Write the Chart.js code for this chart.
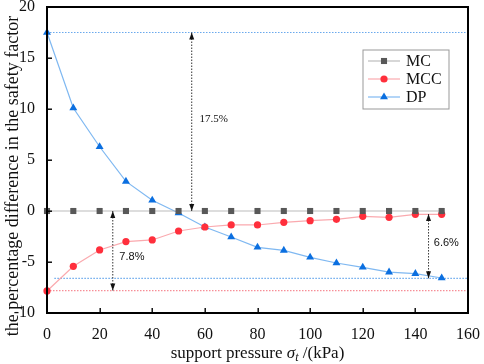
<!DOCTYPE html>
<html>
<head>
<meta charset="utf-8">
<script src="https://cdn.jsdelivr.net/npm/chart.js@4"></script>
<style>
  html, body { margin: 0; padding: 0; background: #fff; }
</style>
</head>
<body>
<canvas id="diffChart" width="484" height="364"></canvas>
<script>
const pressures = [0, 10, 20, 30, 40, 50, 60, 70, 80, 90, 100, 110, 120, 130, 140, 150];
const mcValues = [0, 0, 0, 0, 0, 0, 0, 0, 0, 0, 0, 0, 0, 0, 0, 0];
const mccValues = [-7.84, -5.42, -3.82, -3.0, -2.84, -1.96, -1.57, -1.37, -1.37, -1.11, -0.95, -0.82, -0.52, -0.62, -0.33, -0.33];
const dpValues = [17.5, 10.1, 6.3, 2.9, 1.05, -0.2, -1.57, -2.55, -3.56, -3.86, -4.54, -5.1, -5.52, -6.0, -6.14, -6.57];

const xTicks = [0, 20, 40, 60, 80, 100, 120, 140, 160];
const yTicks = [-10, -5, 0, 5, 10, 15, 20];

// reference lines: [y, xStart, colour]
const guideLines = [
  [17.5, 0, 'rgba(90,160,235,0.9)'],
  [-6.6, 2.8, 'rgba(90,160,235,0.9)'],
  [-7.8, 0, 'rgba(245,130,140,0.9)']
];
// arrows: [x, yFrom, yTo, label, labelX, labelY, font]
const arrows = [
  [55, 0, 17.5, '17.5%', 58, 9, '11px "Liberation Serif"'],
  [25, 0, -7.8, '7.8%', 27.5, -4.5, '11px "Liberation Sans"'],
  [145, -0.3, -6.6, '6.6%', 147, -3.1, '11px "Liberation Sans"']
];

const toPoints = (vals) => pressures.map((p, i) => ({ x: p, y: vals[i] }));

const series = [
  { label: 'MC', data: mcValues, line: 'rgba(170,170,170,0.8)', fill: '#585858', style: 'rect', r: 4.3 },
  { label: 'MCC', data: mccValues, line: 'rgba(250,160,165,0.9)', fill: '#ff2f3c', style: 'circle', r: 3.6 },
  { label: 'DP', data: dpValues, line: 'rgba(120,180,240,0.95)', fill: '#0b6fe0', style: 'triangle', r: 4.6 }
];

const drawMarker = (c, style, x, y, r, color) => {
  c.save();
  c.fillStyle = color;
  c.beginPath();
  if (style === 'rect') {
    const h = r * Math.SQRT1_2;
    c.rect(x - h, y - h, h * 2, h * 2);
  } else if (style === 'circle') {
    c.arc(x, y, r, 0, Math.PI * 2);
  } else {
    c.moveTo(x, y - r);
    c.lineTo(x + r * 0.866, y + r * 0.5);
    c.lineTo(x - r * 0.866, y + r * 0.5);
    c.closePath();
  }
  c.fill();
  c.restore();
};

const arrowHead = (c, x, y, dir) => {
  c.beginPath();
  c.moveTo(x, y);
  c.lineTo(x - 2.5, y - dir * 7);
  c.lineTo(x + 2.5, y - dir * 7);
  c.closePath();
  c.fill();
};

const decorPlugin = {
  id: 'decor',
  beforeDatasetsDraw(chart) {
    const c = chart.ctx;
    const area = chart.chartArea;
    const xs = chart.scales.x, ys = chart.scales.y;
    c.save();
    c.lineWidth = 1.2;
    c.setLineDash([1.5, 1.5]);
    guideLines.forEach(([v, x0, col]) => {
      c.strokeStyle = col;
      c.beginPath();
      c.moveTo(xs.getPixelForValue(x0), ys.getPixelForValue(v));
      c.lineTo(area.right, ys.getPixelForValue(v));
      c.stroke();
    });
    c.restore();
  },
  afterDraw(chart) {
    const c = chart.ctx;
    const area = chart.chartArea;
    const xs = chart.scales.x, ys = chart.scales.y;
    c.save();

    // frame + inward ticks
    const L = Math.round(area.left), R = Math.round(area.right);
    const T = Math.round(area.top), B = Math.round(area.bottom);
    c.fillStyle = '#000000';
    c.fillRect(L - 1, T - 1, R - L + 2, 2);
    c.fillRect(L - 1, B - 1, R - L + 2, 2);
    c.fillRect(L - 1, T - 1, 2, B - T + 2);
    c.fillRect(R - 1, T - 1, 2, B - T + 2);
    xTicks.forEach(v => {
      const px = Math.round(xs.getPixelForValue(v));
      c.fillRect(px - 0.5, B - 5, 1.4, 5);
    });
    yTicks.forEach(v => {
      const py = Math.round(ys.getPixelForValue(v));
      c.fillRect(L, py - 0.5, 5, 1.4);
    });

    // arrows
    arrows.forEach(([xv, y0, y1, label, tx, ty, font]) => {
      const px = xs.getPixelForValue(xv);
      const p0 = ys.getPixelForValue(y0);
      const p1 = ys.getPixelForValue(y1);
      c.strokeStyle = '#333';
      c.fillStyle = '#111';
      c.lineWidth = 1;
      c.setLineDash([1.5, 1.5]);
      c.beginPath();
      c.moveTo(px, p0);
      c.lineTo(px, p1);
      c.stroke();
      c.setLineDash([]);
      const dir = p1 < p0 ? -1 : 1;
      arrowHead(c, px, p1, dir);
      arrowHead(c, px, p0, -dir);
      c.font = font;
      c.textAlign = 'left';
      c.textBaseline = 'middle';
      c.fillText(label, xs.getPixelForValue(tx), ys.getPixelForValue(ty));
    });

    // legend
    const bx = 363, by = 50, bw = 86, bh = 59;
    c.lineWidth = 1;
    c.strokeStyle = '#999';
    c.strokeRect(bx, by, bw, bh);
    series.forEach((s, i) => {
      const cy = by + 11 + i * 18;
      c.strokeStyle = s.line;
      c.lineWidth = 1.2;
      c.beginPath();
      c.moveTo(bx + 5, cy);
      c.lineTo(bx + 37, cy);
      c.stroke();
      drawMarker(c, s.style, bx + 21, cy, s.r, s.fill);
      c.fillStyle = '#111';
      c.font = '16px "Liberation Serif"';
      c.textAlign = 'left';
      c.textBaseline = 'middle';
      c.fillText(s.label, bx + 43, cy + 1);
    });

    // x title with italic sigma_t
    c.fillStyle = '#111';
    c.textBaseline = 'alphabetic';
    c.textAlign = 'left';
    const part1 = 'support pressure ';
    const part3 = ' /(kPa)';
    c.font = '17px "Liberation Serif"';
    const w1 = c.measureText(part1).width;
    const w3 = c.measureText(part3).width;
    c.font = 'italic 17px "Liberation Serif"';
    const ws = c.measureText('σ').width;
    c.font = 'italic 12px "Liberation Serif"';
    const wt = c.measureText('t').width;
    const total = w1 + ws + wt + w3;
    let tx = (area.left + area.right) / 2 - total / 2;
    const ty = 358;
    c.font = '17px "Liberation Serif"';
    c.fillText(part1, tx, ty); tx += w1;
    c.font = 'italic 17px "Liberation Serif"';
    c.fillText('σ', tx, ty); tx += ws;
    c.font = 'italic 12px "Liberation Serif"';
    c.fillText('t', tx, ty + 3); tx += wt;
    c.font = '17px "Liberation Serif"';
    c.fillText(part3, tx, ty);

    // y title
    c.save();
    c.translate(13, 176);
    c.rotate(-Math.PI / 2);
    c.textAlign = 'center';
    c.textBaseline = 'middle';
    c.font = '18px "Liberation Serif"';
    c.fillText('the percentage difference in the safety factor', 0, 0);
    c.restore();

    c.restore();
  }
};

new Chart(document.getElementById('diffChart'), {
  type: 'line',
  data: {
    datasets: series.map(s => ({
      label: s.label,
      data: toPoints(s.data),
      borderColor: s.line,
      borderWidth: 1.2,
      pointStyle: s.style,
      pointRadius: s.r,
      pointBorderWidth: 0,
      pointBackgroundColor: s.fill,
      tension: 0,
      clip: false
    }))
  },
  options: {
    responsive: false,
    animation: false,
    layout: { padding: { top: 7, right: 8 } },
    scales: {
      x: {
        type: 'linear',
        min: 0,
        max: 160,
        afterBuildTicks: (scale) => { scale.ticks = xTicks.map(v => ({ value: v })); },
        afterFit: (scale) => { scale.height = 51; },
        grid: { display: false },
        border: { display: false },
        ticks: { color: '#111', padding: 4, font: { family: 'Liberation Serif', size: 16 } }
      },
      y: {
        min: -10,
        max: 20,
        afterBuildTicks: (scale) => { scale.ticks = yTicks.map(v => ({ value: v })); },
        afterFit: (scale) => { scale.width = 47; scale.paddingTop = 0; scale.paddingBottom = 0; },
        grid: { display: false },
        border: { display: false },
        ticks: { color: '#111', padding: 4, font: { family: 'Liberation Serif', size: 16 } }
      }
    },
    plugins: {
      legend: { display: false },
      tooltip: { enabled: false }
    }
  },
  plugins: [decorPlugin]
});
</script>
</body>
</html>
